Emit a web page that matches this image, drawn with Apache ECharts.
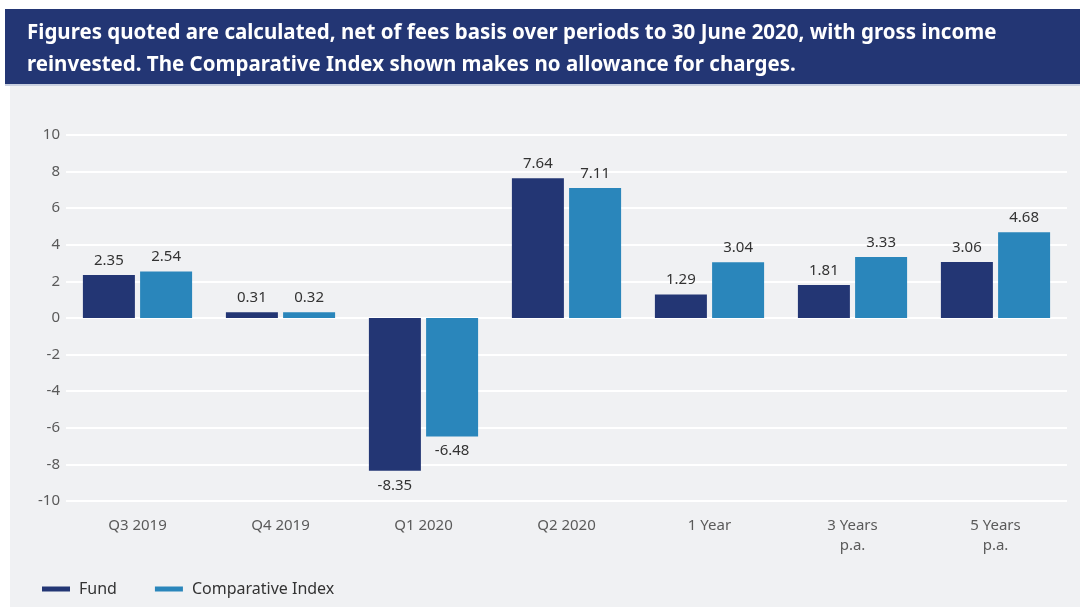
<!DOCTYPE html>
<html>
<head>
<meta charset="utf-8">
<script src="https://cdn.jsdelivr.net/npm/echarts@6/dist/echarts.min.js"></script>
<style>
  html, body { margin: 0; padding: 0; background: #ffffff; }
  #chart { width: 1080px; height: 607px; }
</style>
</head>
<body>
<div id="chart"></div>
<script>
var categories = ['Q3 2019', 'Q4 2019', 'Q1 2020', 'Q2 2020', '1 Year', '3 Years\np.a.', '5 Years\np.a.']
var fundValues = [2.35, 0.31, -8.35, 7.64, 1.29, 1.81, 3.06]
var indexValues = [2.54, 0.32, -6.48, 7.11, 3.04, 3.33, 4.68]
var seriesNames = ['Fund', 'Comparative Index']
var headerLines = [
  'Figures quoted are calculated, net of fees basis over periods to 30 June 2020, with gross income',
  'reinvested. The Comparative Index shown makes no allowance for charges.'
]

var navy = '#233674'
var blue = '#2a86bb'

function barData(values) {
  // negative bars get their label underneath
  return values.map(function (v) {
    return {
      value: v,
      label: { position: v < 0 ? 'bottom' : 'top' }
    }
  })
}

var chart = echarts.init(document.getElementById('chart'))

var labelStyle = {
  show: true,
  distance: 7,
  color: '#333333',
  fontSize: 15,
  fontFamily: 'Noto Sans',
  formatter: function (p) { return p.value.toFixed(2) }
}

var option = {
  backgroundColor: '#ffffff',
  animation: false,
  graphic: [
    { type: 'rect', shape: { x: 10, y: 86, width: 1070, height: 521 }, style: { fill: '#f0f1f3' }, z: -10 },
    { type: 'rect', shape: { x: 5, y: 9, width: 1075, height: 75 }, style: { fill: navy }, z: -10 },
    { type: 'rect', shape: { x: 5, y: 84, width: 1075, height: 2 }, style: { fill: '#c9d0e0' }, z: -10 },
    {
      type: 'text', left: 27, top: 23,
      style: { text: headerLines[0], fill: '#ffffff', font: 'bold 20.5px "Noto Sans"' }
    },
    {
      type: 'text', left: 27, top: 55,
      style: { text: headerLines[1], fill: '#ffffff', font: 'bold 20.5px "Noto Sans"' }
    }
  ],
  legend: {
    left: 37,
    top: 576,
    itemWidth: 28,
    itemHeight: 5,
    itemGap: 38,
    icon: 'rect',
    textStyle: { color: '#333333', fontSize: 16, fontFamily: 'Noto Sans', padding: [0, 0, 0, 4] },
    data: seriesNames
  },
  grid: { left: 66, right: 13, top: 135, bottom: 106, outerBoundsMode: 'none', containLabel: false },
  xAxis: {
    type: 'category',
    data: categories,
    axisLine: { show: false },
    axisTick: { show: false },
    axisLabel: {
      color: '#5a5a5a',
      fontSize: 15,
      fontFamily: 'Noto Sans',
      lineHeight: 20,
      margin: 15,
      interval: 0
    }
  },
  yAxis: {
    type: 'value',
    min: -10,
    max: 10,
    interval: 2,
    axisLine: { show: false },
    axisTick: { show: false },
    axisLabel: { color: '#5a5a5a', fontSize: 15, fontFamily: 'Noto Sans', margin: 6 },
    splitLine: { lineStyle: { color: '#ffffff', width: 2 } }
  },
  series: [
    {
      name: seriesNames[0],
      type: 'bar',
      barWidth: 52,
      barGap: '10%',
      itemStyle: { color: navy },
      label: labelStyle,
      data: barData(fundValues)
    },
    {
      name: seriesNames[1],
      type: 'bar',
      barWidth: 52,
      barGap: '10%',
      itemStyle: { color: blue },
      label: labelStyle,
      data: barData(indexValues)
    }
  ]
}

chart.setOption(option)
</script>
</body>
</html>
